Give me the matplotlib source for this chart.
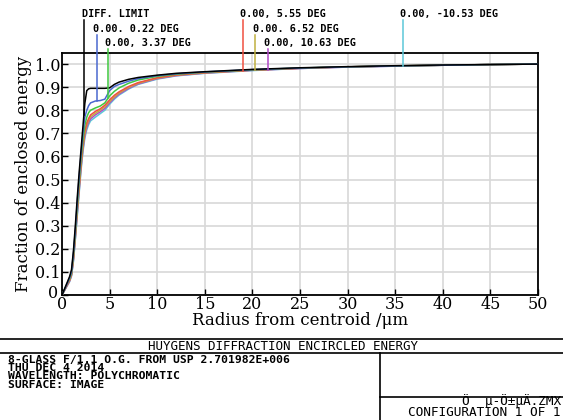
import numpy as np
import matplotlib
matplotlib.use("Agg")
import matplotlib.pyplot as plt
from matplotlib.lines import Line2D
from matplotlib.transforms import ScaledTranslation

# --- data ---
radius = [0, 0.5, 0.8, 1.0, 1.2, 1.4, 1.6, 1.8, 2.0, 2.2, 2.4, 2.6, 2.8, 3.0,
          3.5, 4.0, 4.5, 5.0, 5.5, 6.0, 7.0, 8.0, 10, 12, 15, 20, 25, 30,
          35, 40, 45, 50]

diff_limit = [0, 0.05, 0.08, 0.11, 0.19, 0.30, 0.42, 0.53, 0.63, 0.73, 0.83,
              0.885, 0.893, 0.895, 0.895, 0.895, 0.895, 0.897, 0.912, 0.922,
              0.934, 0.942, 0.952, 0.960, 0.967, 0.977, 0.984, 0.989, 0.993,
              0.996, 0.998, 1.0]
field_022 = [0, 0.045, 0.075, 0.10, 0.18, 0.28, 0.40, 0.51, 0.61, 0.70, 0.77,
             0.80, 0.82, 0.832, 0.840, 0.842, 0.848, 0.885, 0.903, 0.912,
             0.926, 0.937, 0.950, 0.958, 0.966, 0.976, 0.983, 0.988, 0.992,
             0.995, 0.998, 1.0]
field_337 = [0, 0.045, 0.07, 0.095, 0.17, 0.27, 0.38, 0.49, 0.59, 0.67, 0.735,
             0.77, 0.79, 0.80, 0.810, 0.818, 0.832, 0.862, 0.882, 0.897,
             0.917, 0.931, 0.947, 0.956, 0.965, 0.975, 0.983, 0.988, 0.992,
             0.995, 0.998, 1.0]
field_555 = [0, 0.04, 0.065, 0.09, 0.16, 0.26, 0.37, 0.47, 0.57, 0.65, 0.71,
             0.745, 0.765, 0.78, 0.795, 0.806, 0.822, 0.845, 0.865, 0.880,
             0.903, 0.920, 0.941, 0.953, 0.963, 0.974, 0.982, 0.988, 0.992,
             0.995, 0.998, 1.0]
field_652 = [0, 0.04, 0.063, 0.088, 0.155, 0.25, 0.36, 0.46, 0.56, 0.64, 0.70,
             0.735, 0.757, 0.772, 0.787, 0.80, 0.815, 0.838, 0.858, 0.875,
             0.899, 0.917, 0.939, 0.952, 0.962, 0.974, 0.982, 0.988, 0.992,
             0.995, 0.998, 1.0]
field_1063 = [0, 0.038, 0.06, 0.085, 0.15, 0.245, 0.35, 0.45, 0.55, 0.63, 0.69,
              0.725, 0.748, 0.763, 0.780, 0.793, 0.808, 0.832, 0.853, 0.870,
              0.895, 0.914, 0.937, 0.950, 0.961, 0.973, 0.981, 0.987, 0.991,
              0.995, 0.998, 1.0]
field_m1053 = [0, 0.036, 0.058, 0.082, 0.145, 0.24, 0.34, 0.44, 0.54, 0.62,
               0.68, 0.715, 0.738, 0.754, 0.770, 0.785, 0.800, 0.826, 0.848,
               0.866, 0.892, 0.912, 0.935, 0.949, 0.960, 0.972, 0.981, 0.987,
               0.991, 0.995, 0.998, 1.0]

series = [field_m1053, field_1063, field_652, field_555, field_337, field_022,
          diff_limit]
labels = ["0.00, -10.53 DEG", "0.00, 10.63 DEG", "0.00. 6.52 DEG",
          "0.00, 5.55 DEG", "0.00, 3.37 DEG", "0.00. 0.22 DEG", "DIFF. LIMIT"]
colors = ["#5cc8d8", "#b048c8", "#c0b040", "#f05040", "#40c840", "#4a68d0",
          "black"]

# label placement: leader x (um), text x (um), text row
leader_x = [35.8, 21.6, 20.27, 19.0, 4.83, 3.68, 2.3]
text_x = [35.5, 21.2, 20.06, 18.7, 4.52, 3.26, 2.1]
rows = [0, 2, 1, 0, 2, 1, 0]

W, H = 563, 420
fig = plt.figure(figsize=(W / 100, H / 100), dpi=100)
ax = fig.add_axes([62 / W, 1 - 295 / H, (538 - 62) / W, (295 - 53) / H])

for y, lab, c in zip(series, labels, colors):
    ax.plot(radius, y, color=c, lw=1.1, zorder=3)

ax.set_xlim(0, 50)
ax.set_ylim(0, 1.048)
ax.set_xticks(np.arange(0, 51, 5))
ax.set_yticks(np.arange(0, 1.01, 0.1))
ax.set_yticklabels(["0"] + ["%.1f" % v for v in np.arange(0.1, 1.01, 0.1)])
ax.grid(True, color="#d8d8d8", lw=1.2)
ax.set_axisbelow(True)
ax.tick_params(direction="in", length=4, width=1, labelsize=11.5, pad=1,
               labelfontfamily="DejaVu Serif")
for s in ax.spines.values():
    s.set_linewidth(1.3)
ax.set_xlabel("Radius from centroid /\u03bcm", family="DejaVu Serif",
              fontsize=12, labelpad=-1)
ax.set_ylabel("Fraction of enclosed energy", family="DejaVu Serif",
              fontsize=12, labelpad=2)

# nudge the two "0" labels apart at the origin
y0_lab = ax.get_yticklabels()[0]
y0_lab.set_transform(y0_lab.get_transform() + ScaledTranslation(-2 / 100, 4 / 100, fig.dpi_scale_trans))

# labels with leader lines above the plot
row_text_y = [1.216, 1.152, 1.091]
row_line_top = [1.19, 1.126, 1.065]
for y, lab, c, lx, tx, rw in zip(series, labels, colors, leader_x, text_x, rows):
    yv = np.interp(lx, radius, y)
    ax.plot([lx, lx], [yv, row_line_top[rw]], color=c, lw=1.1, clip_on=False,
            zorder=4)
    ax.text(tx, row_text_y[rw], lab, fontsize=7.3, family="DejaVu Sans Mono",
            weight="bold", va="center", ha="left")

# bottom title block
def fline(x0, y0, x1, y1):
    fig.add_artist(Line2D([x0 / W, x1 / W], [1 - y0 / H, 1 - y1 / H],
                          color="black", lw=1.2))

fline(0, 339, W, 339)
fline(0, 353, W, 353)
fline(380, 353, 380, H)
fline(380, 397, W, 397)

mono = dict(family="DejaVu Sans Mono", color="black")
fig.text(283 / W, 1 - 346 / H, "HUYGENS DIFFRACTION ENCIRCLED ENERGY",
         fontsize=9, ha="center", va="center", **mono)
info = ["8-GLASS F/1.1 O.G. FROM USP 2.701982E+006", "THU DEC 4 2014",
        "WAVELENGTH: POLYCHROMATIC", "SURFACE: IMAGE"]
fig.text(8 / W, 1 - 355 / H, "\n".join(info), fontsize=8.2, ha="left",
         va="top", linespacing=0.78, weight="bold", **mono)
config = ["\u00d6  \u00b5-\u00d6\u00b1\u00b5\u00c4.ZMX", "CONFIGURATION 1 OF 1"]
fig.text(561 / W, 1 - 419 / H, "\n".join(config), fontsize=9.2, ha="right",
         va="bottom", multialignment="right", linespacing=0.8, **mono)

fig.savefig("out.png", dpi=100)
